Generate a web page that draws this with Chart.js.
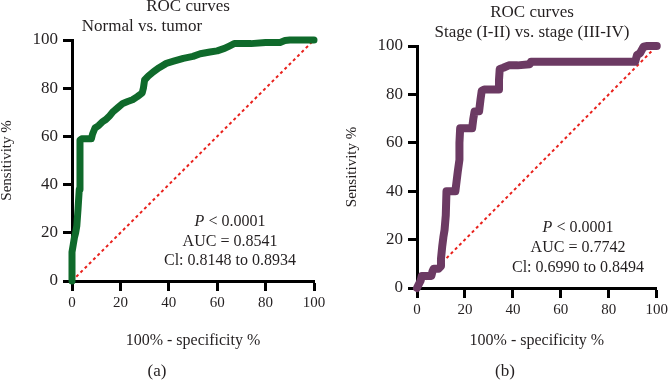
<!DOCTYPE html>
<html>
<head>
<meta charset="utf-8">
<script src="https://cdn.jsdelivr.net/npm/chart.js@4.4.0/dist/chart.umd.min.js"></script>
<style>
  body { margin: 0; background: #fff; }
  .wrap { display: flex; width: 671px; height: 380px; }
  canvas { display: block; }
</style>
</head>
<body>
<div class="wrap">
  <canvas id="rocA" width="335" height="380"></canvas>
  <canvas id="rocB" width="336" height="380"></canvas>
</div>
<script>
const tickValues = [0, 20, 40, 60, 80, 100];

// (a) Normal vs. tumor : 100% - specificity, sensitivity
const tumorFpr  = [0, 0, 0, 0.5, 1, 1.5, 2, 2.5, 3, 3.3, 3.3, 4, 8, 8.5, 9.5, 11, 12.5, 14, 15.5, 17, 19, 21, 23, 25, 27, 29, 29.5, 30, 31.5, 33.6, 36, 39, 42, 46, 50, 53, 57, 60, 63, 65, 67, 74, 80, 86, 88, 90, 100];
const tumorSens = [0, 6, 12, 15, 18, 20, 23, 30, 38, 45, 58.5, 59, 59, 61, 63.5, 64.5, 66, 67, 68.5, 70.3, 72, 73.7, 74.5, 75.2, 76.5, 78, 80, 83.4, 85, 86.8, 88.5, 90.3, 91.2, 92.4, 93.2, 94.3, 95, 95.5, 96.5, 97.5, 98.5, 98.5, 99, 99, 99.8, 100, 100];

// (b) Stage (I-II) vs. stage (III-IV)
const stageFpr  = [0, 0.5, 1.5, 2, 4, 6, 6.5, 7, 9, 10, 10, 10.5, 11, 11.5, 12, 12.3, 14, 16, 16.5, 17, 17.7, 17.7, 18, 20, 23, 23.5, 24, 25.9, 26.5, 27, 28, 31, 34, 34.2, 34.5, 36, 38.3, 42, 47, 47.5, 60, 80, 91, 91.8, 93, 94.5, 96, 100];
const stageSens = [0, 1, 3, 5, 5, 5, 7, 8, 8, 9, 12, 17, 21, 24, 30, 40, 40, 40, 44, 48, 53, 60, 66, 66, 66, 70, 72.9, 73, 78, 81.5, 82, 82, 82, 86, 90.5, 91, 92, 92, 92.5, 93.5, 93.5, 93.5, 93.5, 96.3, 97, 99.7, 100, 100];

// chance diagonal
const chanceLine = [0, 100];

const statsA = ['0.0001', 'AUC = 0.8541', 'Cl: 0.8148 to 0.8934'];
const statsB = ['0.0001', 'AUC = 0.7742', 'Cl: 0.6990 to 0.8494'];

const serif = "'Liberation Serif', 'DejaVu Serif', serif";
const ink = '#231f20';

function toPoints(xs, ys) {
  return xs.map((x, i) => ({ x: x, y: ys[i] }));
}

// titles, stats block and panel letter
const panelText = {
  id: 'panelText',
  afterDraw(chart, args, o) {
    const ctx = chart.ctx;
    ctx.save();
    ctx.fillStyle = ink;
    ctx.textBaseline = 'middle';
    ctx.textAlign = 'center';
    ctx.font = '17px ' + serif;
    ctx.fillText('ROC curves', o.titleX, o.titleY);
    ctx.fillText(o.subtitle, o.subX, o.subY);

    // P < value, P in italics
    const rest = ' < ' + o.stats[0];
    ctx.font = 'italic 16px ' + serif;
    const wP = ctx.measureText('P').width;
    ctx.font = '16px ' + serif;
    const wR = ctx.measureText(rest).width;
    const x0 = o.statsX - (wP + wR) / 2;
    ctx.textAlign = 'left';
    ctx.font = 'italic 16px ' + serif;
    ctx.fillText('P', x0, o.statsY[0]);
    ctx.font = '16px ' + serif;
    ctx.fillText(rest, x0 + wP, o.statsY[0]);
    ctx.textAlign = 'center';
    ctx.fillText(o.stats[1], o.statsX, o.statsY[1]);
    ctx.fillText(o.stats[2], o.statsX, o.statsY[2]);

    ctx.font = '17px ' + serif;
    ctx.fillText(o.letter, o.letterX, 372);
    ctx.restore();
  }
};

function makeRoc(id, cfg) {
  const ctx = document.getElementById(id).getContext('2d');
  return new Chart(ctx, {
    type: 'scatter',
    data: {
      datasets: [{
        data: toPoints(chanceLine, chanceLine),
        showLine: true,
        borderColor: '#e8211c',
        borderWidth: 2,
        borderDash: [3, 3],
        pointRadius: 0,
        order: 2
      }, {
        data: toPoints(cfg.fpr, cfg.sens),
        showLine: true,
        borderColor: cfg.color,
        borderWidth: cfg.lineWidth,
        borderJoinStyle: 'round',
        borderCapStyle: 'round',
        pointRadius: 0,
        clip: false,
        order: 1
      }]
    },
    options: {
      responsive: false,
      animation: false,
      layout: { padding: { top: cfg.top, right: cfg.right, left: 0, bottom: 0 } },
      plugins: {
        legend: { display: false },
        tooltip: { enabled: false },
        panelText: cfg.text
      },
      scales: {
        x: {
          type: 'linear', min: 0, max: 100,
          afterBuildTicks: s => { s.ticks = tickValues.map(v => ({ value: v })); },
          afterFit: s => { s.height = cfg.xHeight; },
          border: { display: true, color: '#000', width: 3 },
          grid: { drawOnChartArea: false, drawTicks: true, tickLength: 10, tickWidth: 3, tickColor: '#000' },
          ticks: { color: ink, padding: 3, maxRotation: 0, font: { family: serif, size: 15 } },
          title: {
            display: true, text: '100% - specificity %', color: ink,
            font: { family: serif, size: 16 }, padding: { top: 0, bottom: 30 }
          }
        },
        y: {
          type: 'linear', min: 0, max: 100,
          afterBuildTicks: s => { s.ticks = tickValues.map(v => ({ value: v })); },
          afterFit: s => { s.width = cfg.yWidth; },
          border: { display: true, color: '#000', width: 3 },
          grid: { drawOnChartArea: false, drawTicks: true, tickLength: 9, tickWidth: 3, tickColor: '#000' },
          ticks: { color: ink, padding: 5, font: { family: serif, size: 17 } },
          title: {
            display: true, text: 'Sensitivity %', color: ink,
            font: { family: serif, size: 15, lineHeight: 1 }, padding: { top: cfg.yTitlePad, bottom: 0 }
          }
        }
      }
    },
    plugins: [panelText]
  });
}

makeRoc('rocA', {
  fpr: tumorFpr, sens: tumorSens, color: '#0f6a2b', lineWidth: 7,
  top: 40, right: 21, xHeight: 99, yWidth: 72, yTitlePad: 0,
  text: {
    subtitle: 'Normal vs. tumor', titleX: 188, titleY: 7, subX: 142, subY: 27,
    stats: statsA, statsX: 230, statsY: [222, 242, 261], letter: '(a)', letterX: 157
  }
});

makeRoc('rocB', {
  fpr: stageFpr, sens: stageSens, color: '#6c3a63', lineWidth: 8,
  top: 46, right: 11, xHeight: 92, yWidth: 82, yTitlePad: 10,
  text: {
    subtitle: 'Stage (I-II) vs. stage (III-IV)', titleX: 197, titleY: 13, subX: 197, subY: 33,
    stats: statsB, statsX: 243, statsY: [228, 248, 268], letter: '(b)', letterX: 170
  }
});
</script>
</body>
</html>
